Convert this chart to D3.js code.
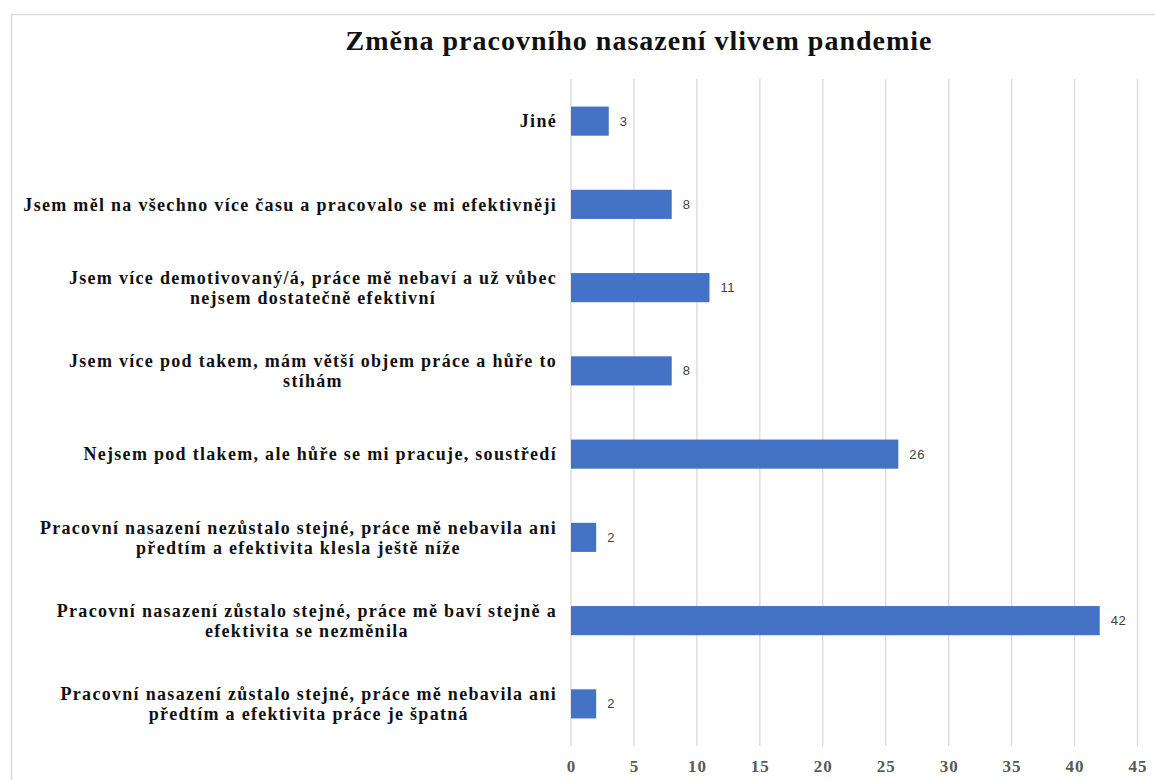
<!DOCTYPE html>
<html>
<head>
<meta charset="utf-8">
<script src="https://cdn.jsdelivr.net/npm/d3@7"></script>
<style>
  body { margin: 0; background: #fff; }
  svg { display: block; }
</style>
</head>
<body>
<svg width="1155" height="780"></svg>
<script>
var categories = [
  "Jiné",
  "Jsem měl na všechno více času a pracovalo se mi efektivněji",
  "Jsem více demotivovaný/á, práce mě nebaví a už vůbec\nnejsem dostatečně efektivní",
  "Jsem více pod takem, mám větší objem práce a hůře to\nstíhám",
  "Nejsem pod tlakem, ale hůře se mi pracuje, soustředí",
  "Pracovní nasazení nezůstalo stejné, práce mě nebavila ani\npředtím a efektivita klesla ještě níže",
  "Pracovní nasazení zůstalo stejné, práce mě baví stejně a\nefektivita se nezměnila",
  "Pracovní nasazení zůstalo stejné, práce mě nebavila ani\npředtím a efektivita práce je špatná"
];
var values = [3, 8, 11, 8, 26, 2, 42, 2];
var xTicks = [0, 5, 10, 15, 20, 25, 30, 35, 40, 45];
var title = "Změna pracovního nasazení vlivem pandemie";

var svg = d3.select("svg");

// outer frame (cut off at right and bottom like the screenshot)
svg.append("rect")
    .attr("x", 11.5).attr("y", 14.5)
    .attr("width", 1300).attr("height", 900)
    .attr("fill", "#fff")
    .attr("stroke", "#d9d9d9")
    .attr("stroke-width", 1.5);

var x = d3.scaleLinear().domain([0, 45]).range([571, 1137.5]);
var y = d3.scaleBand().domain(categories).range([79.5, 745.5])
    .paddingInner(0.65).paddingOuter(0.325);

// grid
svg.append("g")
  .selectAll("line")
  .data(xTicks)
  .enter().append("line")
    .attr("x1", function(d) { return x(d); })
    .attr("x2", function(d) { return x(d); })
    .attr("y1", 79)
    .attr("y2", 746)
    .style("stroke", "#d9d9d9")
    .style("stroke-width", "1.3px");

// x axis labels
var xAxis = svg.append("g")
    .attr("transform", "translate(0,760)")
    .call(d3.axisBottom(x).tickValues(xTicks).tickSize(0).tickPadding(0));
xAxis.select(".domain").remove();
xAxis.selectAll("text")
    .style("font-family", "'Liberation Serif', serif")
    .style("font-weight", "bold")
    .style("font-size", "17px")
    .style("letter-spacing", "1px")
    .style("fill", "#595959");

// bars
svg.append("g")
  .selectAll("rect")
  .data(values)
  .enter().append("rect")
    .attr("x", x(0))
    .attr("y", function(d, i) { return y(categories[i]); })
    .attr("width", function(d) { return x(d) - x(0); })
    .attr("height", y.bandwidth())
    .style("fill", "#4472c4");

// value labels
svg.append("g")
  .selectAll("text")
  .data(values)
  .enter().append("text")
    .attr("x", function(d) { return x(d) + 11; })
    .attr("y", function(d, i) { return y(categories[i]) + y.bandwidth() / 2; })
    .attr("dy", "0.35em")
    .style("font-family", "'Liberation Sans', sans-serif")
    .style("font-size", "13px")
    .style("letter-spacing", "0.6px")
    .style("fill", "#404040")
    .text(function(d) { return d; });

// category labels, lines centred as a block, right edge at 557
var labelRight = 557;
var cat = svg.append("g")
  .selectAll("g")
  .data(categories)
  .enter().append("g");

cat.each(function(c) {
  var g = d3.select(this);
  var lines = c.split("\n");
  var cy = y(c) + y.bandwidth() / 2;
  var lh = 20;
  var texts = lines.map(function(l, k) {
    return g.append("text")
      .attr("y", cy + (k - (lines.length - 1) / 2) * lh)
      .attr("dy", "0.35em")
      .attr("text-anchor", "middle")
      .style("font-family", "'Liberation Serif', serif")
      .style("font-weight", "bold")
      .style("font-size", "18px")
      .style("letter-spacing", "1.3px")
      .style("fill", "#111")
      .text(l);
  });
  var maxW = d3.max(texts, function(t) { return t.node().getComputedTextLength(); });
  texts.forEach(function(t) { t.attr("x", labelRight - maxW / 2); });
});

// title
svg.append("text")
    .attr("x", 639)
    .attr("y", 50)
    .attr("text-anchor", "middle")
    .style("font-family", "'Liberation Serif', serif")
    .style("font-weight", "bold")
    .style("font-size", "28px")
    .style("letter-spacing", "1px")
    .style("fill", "#111")
    .text(title);
</script>
</body>
</html>
